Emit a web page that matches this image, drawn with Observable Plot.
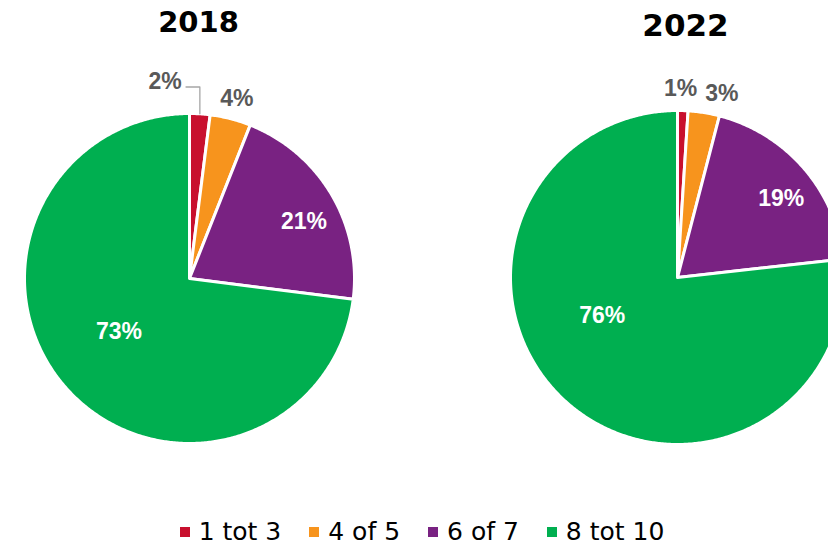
<!DOCTYPE html>
<html><head><meta charset="utf-8">
<script src="https://cdn.jsdelivr.net/npm/d3@7"></script>
<script src="https://cdn.jsdelivr.net/npm/@observablehq/plot@0.6"></script>
<style>
html,body{margin:0;padding:0;background:#fff;overflow:hidden;width:828px;height:546px;position:relative;}
#chart{position:absolute;left:0;top:0;}
#legend{position:absolute;left:0;top:514px;width:828px;height:36px;display:flex;justify-content:center;align-items:center;font-family:"DejaVu Sans",Verdana,sans-serif;font-size:25px;line-height:36px;color:#000;padding-left:16px;box-sizing:border-box;}
.item{display:flex;align-items:center;margin:0 14px;white-space:nowrap;}
.sw{width:10px;height:10px;margin-right:9px;flex:none;}
</style></head><body>
<div id="chart"></div><div id="legend"></div>
<script>
// ---- data ----
const categories = ["1 tot 3", "4 of 5", "6 of 7", "8 tot 10"];
const years = ["2018", "2022"];
const values2018 = [2, 4, 21, 73];
const values2022 = [1, 3, 19, 76];
const colors = ["#C8102E", "#F7941D", "#792282", "#00AF50"];

// ---- layout ----
const W = 828, H = 512;
const pieLayout = [
  {cx: 189, cy: 278, r: 165, titleDx: 9, titleY: 22, titleSize: 29,
   // [radius factor, angle nudge from slice middle (deg)]
   labelPlace: [[1.2, -10.7], [1.13, 0.3], [0.775, 4.1], [0.535, 4.5]]},
  {cx: 677, cy: 277, r: 167, titleDx: 8, titleY: 26, titleSize: 31,
   labelPlace: [[1.13, -0.9], [1.13, 4.5], [0.78, 3.7], [0.505, 21.5]]}
];
const seriesValues = [values2018, values2022];

const slicePts = [], insideLabels = [], outsideLabels = [], titles = [], leaders = [];
years.forEach((year, pi) => {
  const p = pieLayout[pi];
  const vals = seriesValues[pi];
  const total = d3.sum(vals);
  let acc = 0;
  titles.push({x: p.cx + p.titleDx, y: p.titleY, text: year, size: p.titleSize});
  vals.forEach((v, i) => {
    const a0 = acc / total * 2 * Math.PI; acc += v;
    const a1 = acc / total * 2 * Math.PI;
    const key = year + "-" + i;
    slicePts.push({key, cat: categories[i], x: p.cx, y: p.cy});
    const n = Math.max(2, Math.ceil((a1 - a0) / (Math.PI / 360)));
    for (let k = 0; k <= n; k++) {
      const a = a0 + (a1 - a0) * k / n;
      slicePts.push({key, cat: categories[i], x: p.cx + p.r * Math.sin(a), y: p.cy - p.r * Math.cos(a)});
    }
    const mid = (a0 + a1) / 2;
    const [rf, nudge] = p.labelPlace[i];
    const la = mid + nudge * Math.PI / 180;
    const lab = {x: p.cx + rf * p.r * Math.sin(la), y: p.cy - rf * p.r * Math.cos(la), text: v + "%"};
    if (rf > 1) {
      outsideLabels.push(lab);
      // leader line for labels pushed away from their slice
      if (Math.abs(nudge) > 5) {
        const ax = p.cx + p.r * Math.sin(mid), ay = p.cy - p.r * Math.cos(mid);
        leaders.push({key, x: ax, y: ay});
        leaders.push({key, x: ax, y: lab.y + 5});
        leaders.push({key, x: lab.x + 21, y: lab.y + 5});
      }
    } else insideLabels.push(lab);
  });
});

const labelFont = '"Liberation Sans", Arial, sans-serif';
const chart = Plot.plot({
  width: W, height: H,
  marginTop: 0, marginRight: 0, marginBottom: 0, marginLeft: 0,
  x: {domain: [0, W], range: [0, W], axis: null},
  y: {domain: [0, H], range: [0, H], axis: null},
  color: {domain: categories, range: colors},
  style: {background: "white", overflow: "hidden"},
  marks: [
    Plot.line(slicePts, {x: "x", y: "y", z: "key", fill: "cat", stroke: "white", strokeWidth: 3, curve: "linear-closed"}),
    Plot.line(leaders, {x: "x", y: "y", z: "key", stroke: "#A6A6A6", strokeWidth: 1.3}),
    Plot.text(insideLabels, {x: "x", y: "y", text: "text", fill: "white", fontSize: 23, fontWeight: "bold", fontFamily: labelFont}),
    Plot.text(outsideLabels, {x: "x", y: "y", text: "text", fill: "#595959", fontSize: 23, fontWeight: "bold", fontFamily: labelFont}),
    Plot.text(titles, {x: "x", y: "y", text: "text", fontSize: "size", fontWeight: "bold", fill: "black", fontFamily: '"DejaVu Sans", Verdana, sans-serif'})
  ]
});
document.getElementById("chart").appendChild(chart);

const legend = document.getElementById("legend");
categories.forEach((c, i) => {
  const it = document.createElement("div"); it.className = "item";
  const sw = document.createElement("span"); sw.className = "sw"; sw.style.background = colors[i];
  const t = document.createElement("span"); t.textContent = c;
  it.appendChild(sw); it.appendChild(t); legend.appendChild(it);
});
</script>
</body></html>
